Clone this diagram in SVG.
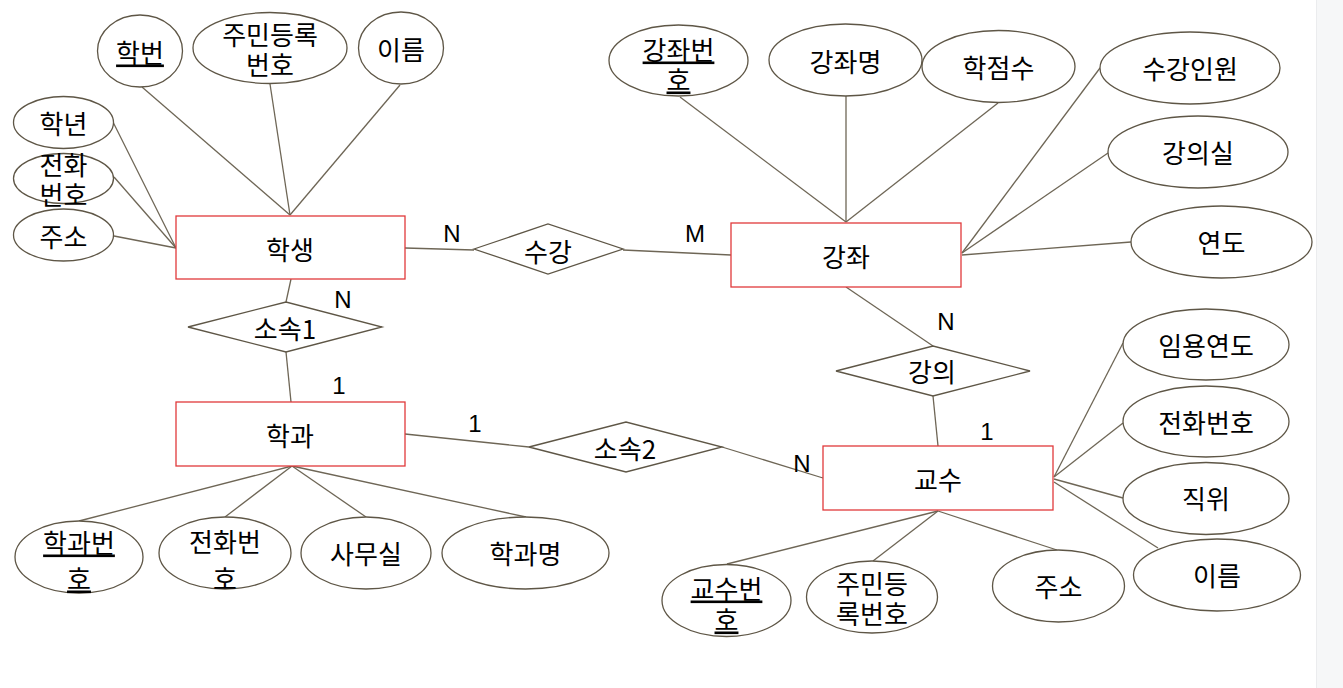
<svg xmlns="http://www.w3.org/2000/svg" width="1343" height="688" viewBox="0 0 1343 688">
<style>
.ent{fill:#fff;stroke:#e0393b;stroke-width:1.3}
.att{fill:#fff;stroke:#5e5646;stroke-width:1.3}
.rel{fill:#fff;stroke:#5e5646;stroke-width:1.3}
.ln{stroke:#6e6656;stroke-width:1.3;fill:none}
text{font-family:"Noto Sans CJK KR","Noto Sans",sans-serif;font-size:26px;fill:#000;text-anchor:middle;dominant-baseline:central}
.lat{font-family:"Liberation Sans",Arial,sans-serif;font-size:24px}
.key{text-decoration:underline}
</style>
<rect x="0" y="0" width="1343" height="688" fill="#fff"/>
<rect x="1316" y="0" width="27" height="688" fill="#f6f7f8"/>
<line x1="1316.5" y1="0" x2="1316.5" y2="688" stroke="#ebecee" stroke-width="1"/>
<g id="connectors">
<line class="ln" x1="142" y1="87" x2="290" y2="215"/>
<line class="ln" x1="270" y1="84" x2="290" y2="215"/>
<line class="ln" x1="400" y1="85" x2="290" y2="215"/>
<line class="ln" x1="113" y1="122" x2="176" y2="248"/>
<line class="ln" x1="114" y1="177" x2="176" y2="248"/>
<line class="ln" x1="114" y1="236" x2="176" y2="248"/>
<line class="ln" x1="405" y1="248" x2="474" y2="250"/>
<line class="ln" x1="623" y1="250" x2="731" y2="255"/>
<line class="ln" x1="680" y1="97" x2="846" y2="222"/>
<line class="ln" x1="846" y1="96" x2="846" y2="222"/>
<line class="ln" x1="998" y1="103" x2="846" y2="222"/>
<line class="ln" x1="1100" y1="68" x2="962" y2="253"/>
<line class="ln" x1="1108" y1="153" x2="962" y2="253"/>
<line class="ln" x1="1131" y1="242" x2="962" y2="255"/>
<line class="ln" x1="291" y1="279" x2="286" y2="302"/>
<line class="ln" x1="286" y1="352" x2="291" y2="402"/>
<line class="ln" x1="405" y1="434" x2="529" y2="447"/>
<line class="ln" x1="722" y1="447" x2="823" y2="478"/>
<line class="ln" x1="846" y1="287" x2="933" y2="346"/>
<line class="ln" x1="933" y1="396" x2="938" y2="446"/>
<line class="ln" x1="292" y1="466" x2="79" y2="521"/>
<line class="ln" x1="292" y1="466" x2="225" y2="517"/>
<line class="ln" x1="292" y1="466" x2="366" y2="517"/>
<line class="ln" x1="292" y1="466" x2="526" y2="517"/>
<line class="ln" x1="1054" y1="477" x2="1123" y2="343"/>
<line class="ln" x1="1054" y1="477" x2="1123" y2="423"/>
<line class="ln" x1="1054" y1="479" x2="1123" y2="498"/>
<line class="ln" x1="1054" y1="482" x2="1158" y2="548"/>
<line class="ln" x1="938" y1="511" x2="727" y2="564"/>
<line class="ln" x1="938" y1="511" x2="873" y2="561"/>
<line class="ln" x1="938" y1="511" x2="1057" y2="550"/>
</g>
<g id="labels">
<text class="lat" x="452" y="233">N</text>
<text class="lat" x="695" y="233">M</text>
<text class="lat" x="343" y="299">N</text>
<text class="lat" x="339" y="385">1</text>
<text class="lat" x="475" y="423">1</text>
<text class="lat" x="802" y="463">N</text>
<text class="lat" x="946" y="321">N</text>
<text class="lat" x="987" y="431">1</text>
</g>
<g id="e-student"><rect class="ent" x="176" y="216" width="229" height="63"/><text x="290" y="248">학생</text></g>
<g id="e-course"><rect class="ent" x="731" y="223" width="230" height="64"/><text x="846" y="255">강좌</text></g>
<g id="e-dept"><rect class="ent" x="176" y="402" width="229" height="64"/><text x="290" y="434">학과</text></g>
<g id="e-prof"><rect class="ent" x="823" y="446" width="230" height="64"/><text x="938" y="478">교수</text></g>
<g id="r-enroll"><polygon class="rel" points="474,249 548,224 623,249 548,274"/><text x="548" y="250">수강</text></g>
<g id="r-belong1"><polygon class="rel" points="188,327 286,302 382,327 286,352"/><text x="285" y="327">소속1</text></g>
<g id="r-belong2"><polygon class="rel" points="529,447 626,422 722,447 626,472"/><text x="625" y="447">소속2</text></g>
<g id="r-teach"><polygon class="rel" points="836,371 933,346 1030,371 933,396"/><text x="932" y="370">강의</text></g>
<g id="a-sid"><ellipse class="att" cx="140" cy="51" rx="42.5" ry="36"/><text class="key" x="140" y="51">학번</text></g>
<g id="a-sssn"><ellipse class="att" cx="270" cy="48" rx="77" ry="35.5"/><text x="270" y="33">주민등록</text><text x="270" y="63">번호</text></g>
<g id="a-sname"><ellipse class="att" cx="401" cy="48" rx="42.5" ry="36"/><text x="401" y="48">이름</text></g>
<g id="a-grade"><ellipse class="att" cx="63.5" cy="122.5" rx="50" ry="26"/><text x="63.5" y="122">학년</text></g>
<g id="a-sphone"><ellipse class="att" cx="63.5" cy="178.5" rx="50" ry="25"/><text x="63.5" y="163">전화</text><text x="63.5" y="193">번호</text></g>
<g id="a-saddr"><ellipse class="att" cx="63.5" cy="235" rx="50" ry="26"/><text x="63.5" y="235">주소</text></g>
<g id="a-cid"><ellipse class="att" cx="678.5" cy="60.5" rx="69.5" ry="35.5"/><text class="key" x="678.5" y="48">강좌번</text><text class="key" x="678.5" y="78">호</text></g>
<g id="a-cname"><ellipse class="att" cx="845.5" cy="60" rx="76.5" ry="36"/><text x="845.5" y="60">강좌명</text></g>
<g id="a-credit"><ellipse class="att" cx="998.5" cy="66.5" rx="76.5" ry="36"/><text x="998.5" y="66">학점수</text></g>
<g id="a-cap"><ellipse class="att" cx="1190" cy="68" rx="90" ry="36"/><text x="1190" y="67">수강인원</text></g>
<g id="a-room"><ellipse class="att" cx="1198" cy="152" rx="90" ry="36"/><text x="1198" y="151">강의실</text></g>
<g id="a-year"><ellipse class="att" cx="1221.5" cy="242" rx="90.5" ry="36"/><text x="1221.5" y="241">연도</text></g>
<g id="a-did"><ellipse class="att" cx="79" cy="557" rx="64" ry="36"/><text class="key" x="79" y="541">학과번</text><text class="key" x="79" y="577">호</text></g>
<g id="a-dphone"><ellipse class="att" cx="225" cy="553" rx="66" ry="36"/><text x="225" y="540">전화번</text><text x="225" y="577">호</text></g>
<g id="a-office"><ellipse class="att" cx="366" cy="553" rx="65" ry="36"/><text x="366" y="552">사무실</text></g>
<g id="a-dname"><ellipse class="att" cx="525.5" cy="553" rx="83.5" ry="36"/><text x="525.5" y="552">학과명</text></g>
<g id="a-hire"><ellipse class="att" cx="1206" cy="344.5" rx="83" ry="35.5"/><text x="1206" y="344">임용연도</text></g>
<g id="a-pphone"><ellipse class="att" cx="1206" cy="421.5" rx="83" ry="35.5"/><text x="1206" y="421">전화번호</text></g>
<g id="a-pos"><ellipse class="att" cx="1206" cy="498.5" rx="83" ry="36"/><text x="1206" y="497">직위</text></g>
<g id="a-pname"><ellipse class="att" cx="1217" cy="575" rx="83.5" ry="36"/><text x="1217" y="574">이름</text></g>
<g id="a-pid"><ellipse class="att" cx="726.5" cy="600.5" rx="64.5" ry="36"/><text class="key" x="726.5" y="587">교수번</text><text class="key" x="726.5" y="618">호</text></g>
<g id="a-pssn"><ellipse class="att" cx="872" cy="597" rx="65.5" ry="36"/><text x="872" y="582">주민등</text><text x="872" y="612">록번호</text></g>
<g id="a-paddr"><ellipse class="att" cx="1058.5" cy="586" rx="66" ry="36"/><text x="1058.5" y="585">주소</text></g>
</svg>
